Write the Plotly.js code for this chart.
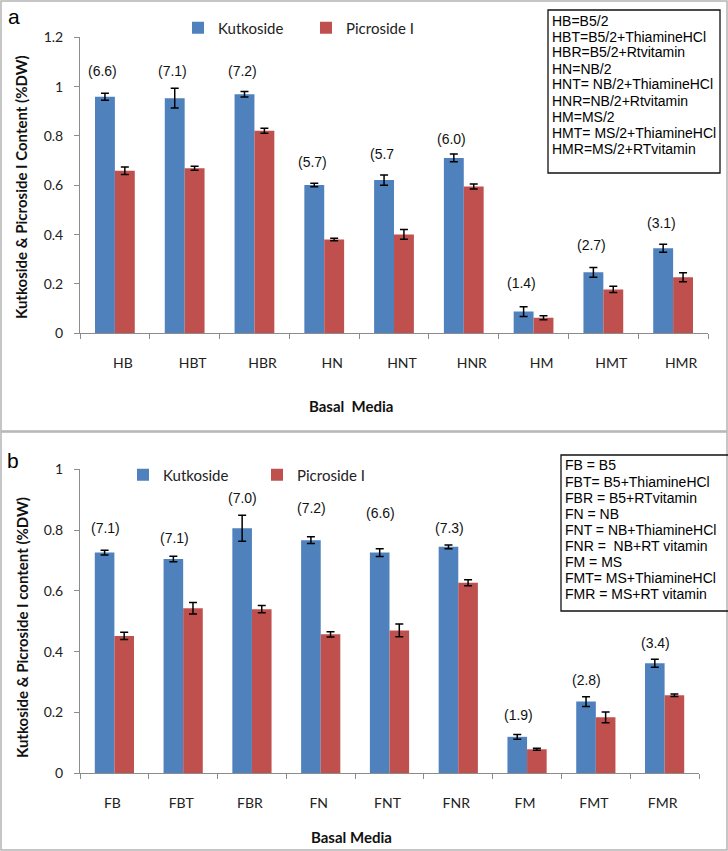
<!DOCTYPE html>
<html>
<head>
<meta charset="utf-8">
<script src="https://cdn.plot.ly/plotly-3.0.1.min.js"></script>
<style>html,body{margin:0;padding:0;background:#fff;}#chart{width:728px;height:851px;}</style>
</head>
<body>
<div id="chart"></div>
<script>
// ---------- DATA ----------
const catsA = ["HB","HBT","HBR","HN","HNT","HNR","HM","HMT","HMR"];
const kutA = [0.959,0.953,0.969,0.601,0.621,0.711,0.088,0.247,0.345];
const kutAErr = [0.014,0.040,0.011,0.007,0.021,0.016,0.020,0.020,0.016];
const picA = [0.659,0.669,0.821,0.380,0.401,0.595,0.063,0.178,0.227];
const picAErr = [0.015,0.008,0.010,0.005,0.020,0.010,0.008,0.013,0.018];
const ratioA = ["(6.6)","(7.1)","(7.2)","(5.7)","(5.7","(6.0)","(1.4)","(2.7)","(3.1)"];
const ratioAY = [1.063,1.063,1.063,0.694,0.727,0.788,0.204,0.358,0.447];
const keyA = ["HB=B5/2","HBT=B5/2+ThiamineHCl","HBR=B5/2+Rtvitamin","HN=NB/2","HNT= NB/2+ThiamineHCl","HNR=NB/2+Rtvitamin","HM=MS/2","HMT= MS/2+ThiamineHCl","HMR=MS/2+RTvitamin"];

const catsB = ["FB","FBT","FBR","FN","FNT","FNR","FM","FMT","FMR"];
const kutB = [0.726,0.705,0.806,0.767,0.726,0.745,0.120,0.236,0.362];
const kutBErr = [0.008,0.009,0.043,0.011,0.013,0.006,0.008,0.016,0.013];
const picB = [0.452,0.543,0.540,0.457,0.470,0.627,0.079,0.184,0.257];
const picBErr = [0.012,0.019,0.012,0.009,0.021,0.010,0.003,0.018,0.004];
const ratioB = ["(7.1)","(7.1)","(7.0)","(7.2)","(6.6)","(7.3)","(1.9)","(2.8)","(3.4)"];
const ratioBY = [0.807,0.774,0.906,0.873,0.856,0.807,0.192,0.307,0.429];
const keyB = ["FB = B5","FBT= B5+ThiamineHCl","FBR = B5+RTvitamin","FN = NB","FNT = NB+ThiamineHCl","FNR =  NB+RT vitamin","FM = MS","FMT= MS+ThiamineHCl","FMR = MS+RT vitamin"];

const seriesNames = ["Kutkoside","Picroside I"];

// ---------- STYLE ----------
const W = 728, H = 851;
const px = x => x / W;
const py = y => 1 - y / H;
const BLUE = "#4f81bd", RED = "#c0504d";
const AX = "#8c8c8c";
const calib = "Lato, 'Open Sans', sans-serif";
const arial = "'Liberation Sans', Arial, sans-serif";

function err(arr){return {type:"data", array:arr, visible:true, color:"#000", thickness:1.5, width:4};}

const traces = [
  {type:"bar", name:seriesNames[0], x:catsA, y:kutA, error_y:err(kutAErr), marker:{color:BLUE}, xaxis:"x", yaxis:"y", legend:"legend"},
  {type:"bar", name:seriesNames[1], x:catsA, y:picA, error_y:err(picAErr), marker:{color:RED}, xaxis:"x", yaxis:"y", legend:"legend"},
  {type:"bar", name:seriesNames[0], x:catsB, y:kutB, error_y:err(kutBErr), marker:{color:BLUE}, xaxis:"x2", yaxis:"y2", legend:"legend2"},
  {type:"bar", name:seriesNames[1], x:catsB, y:picB, error_y:err(picBErr), marker:{color:RED}, xaxis:"x2", yaxis:"y2", legend:"legend2"}
];

function xax(domain, cats, shift){
  return {domain:domain, type:"category", categoryarray:cats, range:[-0.5,8.5],
    tickson:"boundaries", ticks:"outside", ticklen:5, tickcolor:AX, tickwidth:1,
    showline:true, linecolor:AX, linewidth:1, showgrid:false, zeroline:false,
    tickfont:{family:calib, size:14, color:"#222"}, ticklabelstandoff:17, ticklabelshift:shift, fixedrange:true};
}
function yax(domain, maxv){
  return {domain:domain, range:[0,maxv], dtick:0.2, tick0:0, ticks:"outside", ticklen:5, tickcolor:AX, tickwidth:1,
    showline:true, linecolor:AX, linewidth:1, showgrid:false, zeroline:false,
    tickfont:{family:calib, size:14, color:"#222"}, ticklabelstandoff:8, fixedrange:true};
}

const layout = {
  width:W, height:H, margin:{l:0,r:0,t:0,b:0}, paper_bgcolor:"#fff", plot_bgcolor:"rgba(0,0,0,0)",
  barmode:"group", bargap:0.43, bargroupgap:0,
  xaxis: Object.assign(xax([px(80),px(708)], catsA, 8), {anchor:"y"}),
  yaxis: Object.assign(yax([py(333.3),py(37.3)], 1.2), {anchor:"x"}),
  xaxis2: Object.assign(xax([px(80),px(699)], catsB, -2), {anchor:"y2"}),
  yaxis2: Object.assign(yax([py(773.3),py(469.3)], 1.0), {anchor:"x2"}),
  legend:{orientation:"h", x:px(178), y:py(28), xanchor:"left", yanchor:"middle", itemwidth:30, entrywidth:83,
    font:{family:calib, size:15, color:"#222"}, bgcolor:"rgba(0,0,0,0)", borderwidth:0},
  legend2:{orientation:"h", x:px(123), y:py(475), xanchor:"left", yanchor:"middle", itemwidth:30, entrywidth:89,
    font:{family:calib, size:15, color:"#222"}, bgcolor:"rgba(0,0,0,0)", borderwidth:0},
  shapes:[
    {type:"rect", xref:"paper", yref:"paper", x0:px(1), x1:px(727), y0:py(431), y1:py(1), line:{color:"#b4b4b4", width:1.5}},
    {type:"rect", xref:"paper", yref:"paper", x0:px(1), x1:px(727), y0:py(850), y1:py(432), line:{color:"#b4b4b4", width:1.5}},
    {type:"rect", xref:"paper", yref:"paper", x0:px(548), x1:px(720), y0:py(173), y1:py(10), line:{color:"#111", width:1.3}},
    {type:"rect", xref:"paper", yref:"paper", x0:px(561), x1:px(730), y0:py(611), y1:py(455), line:{color:"#111", width:1.3}}
  ],
  annotations:[]
};

const ann = layout.annotations;
const C = {xanchor:"center", yanchor:"middle", showarrow:false, xref:"paper", yref:"paper"};
// panel letters
ann.push(Object.assign({x:px(14), y:py(16), text:"a", font:{family:arial, size:21, color:"#000"}}, C));
ann.push(Object.assign({x:px(13), y:py(460), text:"b", font:{family:arial, size:21, color:"#000"}}, C));
// axis titles
ann.push(Object.assign({x:px(351), y:py(406), text:"Basal  Media", font:{family:calib, size:15, color:"#111", weight:"bold"}}, C));
ann.push(Object.assign({x:px(351), y:py(837), text:"Basal Media", font:{family:calib, size:15, color:"#111", weight:"bold"}}, C));
ann.push(Object.assign({x:px(21), y:py(187), text:"Kutkoside & Picroside I Content (%DW)", textangle:-90, font:{family:calib, size:15, color:"#111", weight:"bold"}}, C));
ann.push(Object.assign({x:px(22), y:py(628), text:"Kutkoside & Picroside I content (%DW)", textangle:-90, font:{family:calib, size:15, color:"#111", weight:"bold"}}, C));
// ratio labels
catsA.forEach((c,i)=>ann.push({xref:"x", yref:"y", x:c, y:ratioAY[i], xshift:-12, xanchor:"center", yanchor:"middle", text:ratioA[i], showarrow:false, font:{family:arial, size:14, color:"#111"}}));
catsB.forEach((c,i)=>ann.push({xref:"x2", yref:"y2", x:c, y:ratioBY[i], xshift:-9, xanchor:"center", yanchor:"middle", text:ratioB[i], showarrow:false, font:{family:arial, size:14, color:"#111"}}));
// key boxes
keyA.forEach((t,i)=>ann.push({xref:"paper", yref:"paper", x:px(550), y:py(20.5 + i*16), xanchor:"left", yanchor:"middle", text:t, showarrow:false, font:{family:arial, size:14, color:"#000"}}));
keyB.forEach((t,i)=>ann.push({xref:"paper", yref:"paper", x:px(563), y:py(465.5 + i*16), xanchor:"left", yanchor:"middle", text:t, showarrow:false, font:{family:arial, size:14, color:"#000"}}));

Plotly.newPlot("chart", traces, layout, {displayModeBar:false, staticPlot:true});
</script>
</body>
</html>
